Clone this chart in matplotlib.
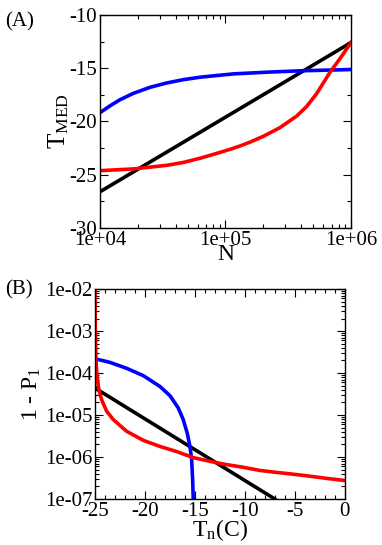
"""
Two-panel figure: median freezing temperature vs N, and 1 - P1 vs Tn.
"""
import matplotlib
matplotlib.use('Agg')
import matplotlib.pyplot as plt
from matplotlib.ticker import MultipleLocator, LogLocator, FuncFormatter, NullFormatter

# ── Panel A data: T_MED vs N ──────────────────────────────────────────────────
black_a_n = [1e4, 1e6]
black_a_t = [-26.6, -12.6]

blue_a_n = [1e4, 1.2e4, 1.44e4, 1.84e4, 2.5e4, 3.4e4, 4.61e4, 6.27e4, 1.15e5, 2.13e5, 3.93e5, 1e6]
blue_a_t = [-19.18, -18.54, -17.97, -17.37, -16.80, -16.39, -16.08, -15.85, -15.54, -15.38, -15.25, -15.13]

red_a_n = [1e4, 1.84e4, 3.4e4, 4.61e4, 6.3e4, 8.51e4, 1.1e5, 1.31e5, 1.6e5, 2.0e5,
           2.7e5, 3.69e5, 4.43e5, 5.32e5, 6.81e5, 8.17e5, 1e6]
red_a_t = [-24.62, -24.46, -24.12, -23.85, -23.45, -23.0, -22.6, -22.3, -21.9, -21.4,
           -20.6, -19.5, -18.6, -17.4, -15.38, -14.11, -12.6]

# ── Panel B data: 1 - P1 vs Tn ────────────────────────────────────────────────
black_b_t = [-25.0, -7.0]
black_b_p = [4.4e-5, 1e-7]

blue_b_t = [-25.0, -23.5, -21.83, -20.17, -18.5, -17.5, -16.67, -16.17, -15.77,
            -15.5, -15.33, -15.23, -15.17, -15.15]
blue_b_p = [2.2e-4, 1.8e-4, 1.3e-4, 8.7e-5, 4.8e-5, 2.9e-5, 1.48e-5, 7.8e-6, 3.7e-6,
            1.8e-6, 8.7e-7, 2.9e-7, 1e-7, 5e-8]

red_b_t = [-25.0, -24.97, -24.9, -24.83, -24.67, -24.5, -24.33, -23.83, -23.17, -21.83,
           -20.17, -18.5, -16.83, -15.17, -13.5, -11.83, -10.17, -8.5, -6.83,
           -5.17, -3.5, -1.83, 0.0]
red_b_p = [1.2e-2, 1.07e-3, 2.1e-4, 1e-4, 4.8e-5, 3.2e-5, 2.3e-5, 1.23e-5, 7.8e-6, 4.1e-6,
           2.5e-6, 1.79e-6, 1.35e-6, 9.7e-7, 7.9e-7, 6.6e-7, 5.7e-7, 4.8e-7, 4.3e-7,
           3.9e-7, 3.5e-7, 3.1e-7, 2.75e-7]

# ── Style ─────────────────────────────────────────────────────────────────────
plt.rcParams['font.family'] = ['Liberation Serif', 'DejaVu Serif']
plt.rcParams['mathtext.fontset'] = 'custom'
plt.rcParams['mathtext.rm'] = 'Liberation Serif'
plt.rcParams['mathtext.it'] = 'Liberation Serif:italic'
plt.rcParams['axes.unicode_minus'] = False
lw = 2.6
tick_fs = 15
label_fs = 17


def style_axes(ax):
    ax.tick_params(which='both', direction='in', top=True, right=True,
                   labelsize=tick_fs, pad=2)
    ax.tick_params(which='major', length=6, width=0.8)
    ax.tick_params(which='minor', length=3, width=0.8)
    for s in ax.spines.values():
        s.set_linewidth(1.0)


sci = FuncFormatter(lambda v, pos: f'{v:.0e}')

fig = plt.figure(figsize=(3.82, 5.45), dpi=100)

# ── Panel A ───────────────────────────────────────────────────────────────────
ax1 = fig.add_axes([0.2618, 0.5817, 0.657, 0.391])
ax1.plot(black_a_n, black_a_t, color='black', lw=lw)
ax1.plot(blue_a_n, blue_a_t, color='blue', lw=lw)
ax1.plot(red_a_n, red_a_t, color='red', lw=lw)
ax1.set_xscale('log')
ax1.set_xlim(1e4, 1e6)
ax1.set_ylim(-30, -10)
ax1.yaxis.set_major_locator(MultipleLocator(5))
ax1.yaxis.set_minor_locator(MultipleLocator(2.5))
ax1.xaxis.set_major_locator(LogLocator(base=10, numticks=20))
ax1.xaxis.set_minor_locator(LogLocator(base=10, subs=range(2, 10), numticks=20))
ax1.xaxis.set_major_formatter(sci)
ax1.xaxis.set_minor_formatter(NullFormatter())
style_axes(ax1)
ax1.set_xlabel('N', fontsize=label_fs, labelpad=-4)
ax1.set_ylabel(r'T$_{\rm MED}$', fontsize=label_fs + 1, labelpad=-1)
fig.text(0.013, 0.978, '(A)', fontsize=tick_fs, va='top', ha='left')

# ── Panel B ───────────────────────────────────────────────────────────────────
ax2 = fig.add_axes([0.2487, 0.0844, 0.654, 0.385])
ax2.plot(black_b_t, black_b_p, color='black', lw=lw)
ax2.plot(blue_b_t, blue_b_p, color='blue', lw=lw)
ax2.plot(red_b_t, red_b_p, color='red', lw=lw)
ax2.set_yscale('log')
ax2.set_xlim(-25, 0)
ax2.set_ylim(1e-7, 1e-2)
ax2.xaxis.set_major_locator(MultipleLocator(5))
ax2.xaxis.set_minor_locator(MultipleLocator(1))
ax2.yaxis.set_major_locator(LogLocator(base=10, numticks=20))
ax2.yaxis.set_minor_locator(LogLocator(base=10, subs=range(2, 10), numticks=20))
ax2.yaxis.set_major_formatter(sci)
ax2.yaxis.set_minor_formatter(NullFormatter())
style_axes(ax2)
ax2.set_xlabel(r'T$_{\rm n}$(C)', fontsize=label_fs, labelpad=-3)
ax2.set_ylabel(r'1 - P$_{1}$', fontsize=label_fs, labelpad=1)
fig.text(0.013, 0.485, '(B)', fontsize=tick_fs, va='top', ha='left')

fig.savefig('out.png', dpi=100)
